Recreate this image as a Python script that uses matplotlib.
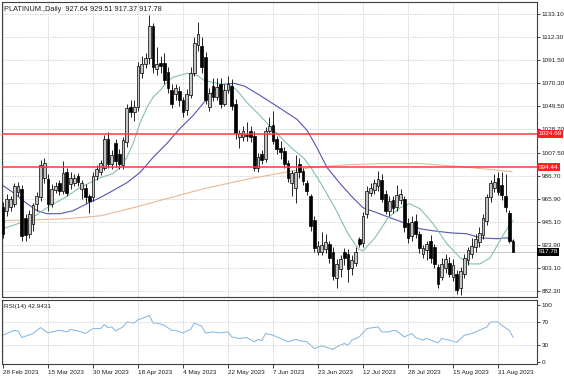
import numpy as np
import matplotlib.pyplot as plt
import matplotlib.transforms as mtransforms

plt.rcParams['font.family'] = ['Liberation Sans', 'DejaVu Sans']

# ---- candles (daily bars, index 0 = 28 Feb 2023) ----
opens = [958, 955, 958, 961, 972, 975, 948, 934, 943, 961, 967, 985, 984, 961, 974, 980, 973, 990, 979, 980,
         986, 975, 976, 968, 967, 986, 990, 994, 1020, 997, 1016, 1006, 996, 1017, 1049, 1044, 1049, 1080, 1088, 1093,
         1122, 1083, 1089, 1089, 1081, 1064, 1061, 1063, 1055, 1046, 1060, 1080, 1105, 1104, 1094, 1049, 1068, 1058, 1070, 1052,
         1064, 1068, 1052, 1022, 1022, 1024, 1027, 1023, 994, 1006, 1002, 1027, 1033, 1020, 1012, 1009, 998, 980, 976, 997,
         991, 980, 968, 947, 918, 918, 920, 925, 918, 894, 902, 918, 916, 903, 908, 929, 926, 952, 971, 974,
         977, 983, 970, 955, 965, 958, 965, 966, 944, 932, 946, 934, 916, 919, 928, 922, 904, 895, 903, 908,
         895, 898, 885, 898, 910, 916, 922, 927, 933, 946, 967, 976, 985, 978, 968, 953, 927.64]
highs = [963, 970, 968, 980, 981, 978, 952, 956, 962, 972, 1001, 1003, 988, 979, 981, 983, 1000, 994, 990, 988,
         989, 983, 979, 970, 990, 996, 1001, 1024, 1026, 1010, 1020, 1011, 1022, 1052, 1055, 1055, 1090, 1095, 1098, 1132,
         1125, 1103, 1095, 1098, 1085, 1070, 1070, 1068, 1058, 1065, 1085, 1112, 1126, 1112, 1099, 1066, 1075, 1075, 1075, 1070,
         1077, 1074, 1056, 1028, 1032, 1035, 1032, 1027, 1007, 1010, 1031, 1040, 1045, 1023, 1018, 1013, 1001, 992, 1005, 1003,
         994, 983, 970, 950, 928, 936, 934, 928, 922, 911, 915, 921, 920, 915, 922, 931, 954, 977, 980, 984,
         991, 988, 974, 968, 968, 978, 975, 968, 948, 950, 952, 937, 924, 928, 933, 925, 907, 912, 916, 913,
         911, 901, 904, 916, 922, 930, 934, 940, 952, 970, 983, 988, 990, 990, 988, 956, 929.51]
lows = [930, 950, 955, 958, 968, 928, 928, 930, 937, 955, 964, 980, 955, 958, 971, 969, 970, 968, 975, 977,
        977, 966, 962, 953, 964, 983, 987, 992, 994, 993, 995, 993, 993, 1013, 1040, 1036, 1045, 1075, 1084, 1088,
        1080, 1078, 1080, 1070, 1062, 1048, 1055, 1050, 1040, 1042, 1057, 1077, 1100, 1080, 1052, 1045, 1054, 1055, 1048, 1050,
        1062, 1046, 1020, 1012, 1018, 1018, 1017, 991, 990, 997, 999, 1025, 1015, 1006, 1002, 994, 981, 968, 962, 985,
        978, 969, 937, 918, 915, 915, 917, 908, 892, 885, 895, 906, 890, 897, 905, 922, 922, 948, 968, 970,
        973, 963, 952, 950, 953, 955, 961, 936, 926, 928, 930, 917, 912, 910, 908, 903, 885, 892, 899, 895,
        891, 880, 879, 894, 906, 912, 918, 922, 929, 942, 963, 972, 969, 965, 954, 926, 917.37]
closes = [934, 966, 966, 977, 977, 932, 933, 952, 960, 968, 996, 998, 961, 975, 977, 973, 989, 971, 985, 985,
          981, 980, 967, 964, 986, 993, 998, 1020, 997, 1005, 1000, 997, 1019, 1048, 1044, 1049, 1086, 1088, 1093, 1122,
          1085, 1088, 1086, 1073, 1066, 1052, 1066, 1055, 1044, 1061, 1080, 1107, 1115, 1085, 1055, 1062, 1058, 1067, 1052, 1064,
          1070, 1050, 1025, 1025, 1027, 1023, 1022, 994, 1004, 1001, 1027, 1032, 1018, 1011, 1008, 997, 985, 989, 990, 990,
          982, 973, 941, 921, 923, 924, 927, 912, 896, 907, 911, 912, 902, 910, 918, 925, 950, 973, 976, 980,
          984, 966, 955, 964, 957, 969, 970, 940, 930, 945, 934, 921, 921, 925, 912, 907, 889, 907, 911, 898,
          906, 883, 900, 912, 919, 923, 929, 935, 948, 967, 980, 981, 972, 969, 958, 928, 917.78]

# ---- moving averages (bar index, price) ----
ma_fast_x = [0, 7, 12.5, 16.5, 20.5, 26, 29.3, 31.2, 33, 34.7, 36.5, 38.4, 40, 41.9, 43.7, 45.3, 47.2, 49.3, 51.7, 53.6,
             57, 60.8, 62.4, 65, 67.7, 71.5, 74.1, 76.8, 80.3, 82.1, 84.8, 88.5, 92, 94.7, 96, 99.2, 102.7, 105.9, 108.5,
             111.2, 114.7, 118.4, 121.9, 124.5, 127.2, 129.9, 132.5, 134.4, 135.5, 136]
ma_fast_y = [938.6, 946.8, 959.5, 966.8, 975.9, 985.0, 988.6, 994.1, 1003.2, 1015.9, 1034.1, 1048.6, 1057.7, 1064.0,
             1071.3, 1075.9, 1077.7, 1079.5, 1077.7, 1073.1, 1070.4, 1068.6, 1064.0, 1053.1, 1044.0, 1030.4, 1021.3,
             1012.2, 1002.2, 994.1, 979.5, 957.7, 934.1, 920.5, 918.6, 930.5, 948.6, 957.7, 961.3, 956.8, 943.2, 925.0,
             912.3, 906.8, 906.8, 912.3, 927.7, 938.6, 944.1, 945.9]
ma_mid_x = [0, 2.7, 6.4, 9.1, 11.7, 15.2, 18.7, 22.4, 25.9, 29.3, 33.1, 36.5, 40, 43.7, 47.2, 50.7, 53.6, 56.3, 58.9,
            61.6, 64.5, 68.5, 73.9, 78.4, 81.1, 83.7, 86.4, 89.9, 93.3, 96, 99.7, 103.2, 107.7, 111.2, 114.7, 119.2,
            123.7, 127.2, 131.7, 134.4, 135.5, 136]
ma_mid_y = [977.7, 971.4, 961.4, 955.0, 952.3, 952.3, 955.0, 961.4, 966.8, 973.2, 980.5, 989.5, 1003.2, 1015.9, 1029.5,
            1041.3, 1053.1, 1064.0, 1069.5, 1070.4, 1067.7, 1059.5, 1047.7, 1037.7, 1027.7, 1012.2, 994.1, 979.5, 966.8,
            957.7, 953.2, 948.6, 943.2, 938.6, 936.8, 935.0, 934.1, 930.5, 929.6, 930.5, 927.7, 927.7]
ma_slow_x = [0, 17, 26, 34.7, 43.7, 53.6, 65.9, 74.9, 82.1, 92.5, 101.3, 111.2, 121.9, 129.9, 135.7]
ma_slow_y = [945.9, 947.7, 950.4, 957.7, 965.9, 975.0, 984.1, 989.5, 994.1, 996.8, 997.7, 997.7, 995.0, 992.3, 990.4]

# ---- RSI(14) ----
rsi_x = [0, 1, 3, 4, 5, 6, 8, 10, 12, 13,
         15, 17, 18, 20, 22, 24, 26, 27, 28, 29,
         30, 32, 33, 35, 36, 37, 39, 40, 41, 43,
         45, 46, 48, 50, 51, 53, 54, 56, 58, 60,
         61, 63, 65, 67, 68, 69, 70, 72, 73, 75,
         76, 78, 79, 81, 83, 85, 88, 89, 91, 92,
         93, 95, 97, 98, 100, 101, 103, 104, 105, 107,
         109, 110, 112, 113, 116, 117, 119, 121, 123, 125,
         127, 129, 130, 132, 133, 135, 136]
rsi_y = [46.4, 49.4, 55, 54, 42.4, 44.7, 49.4, 59.8, 50.4, 52.2,
         55, 52.2, 56.3, 54, 49.4, 58, 58, 65, 59.8, 61,
         54, 61, 69.6, 67.8, 73.7, 75.5, 81.2, 67.8, 67.8, 63.8,
         55, 55, 50.4, 56.3, 67.8, 62, 50.4, 52.2, 50.4, 52.2,
         43.5, 40.7, 42.4, 34.8, 39, 37, 49.4, 46.4, 43.5, 37.7,
         34.8, 39, 37, 34.8, 23.3, 27.8, 21.6, 26.1, 32, 29,
         37.7, 43.5, 58, 59.1, 60.9, 52.2, 52.2, 55, 54, 43.5,
         49.4, 42.4, 37.7, 40.7, 33, 40.7, 37.7, 33.7, 46.4, 49.4,
         55, 60.9, 69.6, 69.6, 63.8, 55, 42.94]

price_ticks = [882.30, 903.10, 923.90, 945.10, 965.90, 986.70, 1007.50, 1028.70, 1049.50, 1070.30, 1091.50,
               1112.30, 1133.10]
date_labels = ['28 Feb 2023', '15 Mar 2023', '30 Mar 2023', '18 Apr 2023', '4 May 2023', '22 May 2023',
               '7 Jun 2023', '23 Jun 2023', '12 Jul 2023', '28 Jul 2023', '15 Aug 2023', '31 Aug 2023']
levels = [1024.69, 994.44]
last_price = 917.78

W, H = 564, 376
fig = plt.figure(figsize=(W / 100, H / 100), dpi=100)
fig.patch.set_facecolor('white')

def px_axes(x0, y0, x1, y1):
    return fig.add_axes([x0 / W, 1 - y1 / H, (x1 - x0) / W, (y1 - y0) / H])

ax = px_axes(2, 2, 537, 297)
ax2 = px_axes(2, 299.5, 537, 364)

xmin = -0.27
xmax = xmin + 535 / 3.75
fs = 5.3    # title texts
fs_t = 4.6  # tick labels
grid_kw = dict(color='#c8c8c8', lw=0.6, ls=(0, (1.5, 1.5)))
date_pos = [12 * i for i in range(len(date_labels))]

# ---- main panel ----
n = len(closes)
idx = np.arange(n)
o = np.array(opens, float); c = np.array(closes, float)
h = np.array(highs, float); l = np.array(lows, float)
up = c >= o
ax.vlines(idx, l, h, color='black', lw=0.6, zorder=3)
body_bot = np.minimum(o, c)
body_h = np.maximum(np.abs(c - o), 0.4)
ax.bar(idx[up], body_h[up], bottom=body_bot[up], width=0.7, color='#c4c4c4', edgecolor='black', lw=0.5, zorder=4)
ax.bar(idx[~up], body_h[~up], bottom=body_bot[~up], width=0.7, color='black', edgecolor='black', lw=0.5, zorder=4)

ax.plot(ma_slow_x, ma_slow_y, color='#e6b995', lw=0.8, zorder=2)
ax.plot(ma_mid_x, ma_mid_y, color='#5555b0', lw=0.8, zorder=2)
ax.plot(ma_fast_x, ma_fast_y, color='#86c2a8', lw=0.8, zorder=2)

for lv in levels:
    ax.axhline(lv, color='#ff3a3a', lw=1.1, zorder=5)
ax.axhline(last_price, color='#c0c0c0', lw=0.6, zorder=1)

ax.set_xlim(xmin, xmax)
ax.set_ylim(876.85, 1144.0)
ax.yaxis.tick_right()
ax.set_yticks(price_ticks)
ax.set_yticklabels(['%.2f' % v for v in price_ticks], fontsize=fs_t, color='#202020')
ax.set_xticks(date_pos)
ax.set_xticklabels([])
ax.tick_params(axis='y', length=2.5, width=0.6, pad=1, colors='#202020')
ax.tick_params(axis='x', length=0)
ax.grid(True, **grid_kw)
ax.set_axisbelow(True)
for sp in ax.spines.values():
    sp.set_color('#404040'); sp.set_linewidth(0.8)

ax.text(0.003, 0.985, 'PLATINUM.,Daily  927.64 929.51 917.37 917.78', transform=ax.transAxes,
        fontsize=fs, va='top', ha='left', color='#202020')

tr = mtransforms.blended_transform_factory(ax.transAxes, ax.transData)
for lv in levels:
    ax.text(1.003, lv, '%.2f' % lv, transform=tr, fontsize=fs_t, color='white', va='center', ha='left',
            zorder=10, clip_on=False,
            bbox=dict(boxstyle='square,pad=0.2', fc='#ff2020', ec='none'))
ax.text(1.003, last_price, '%.2f' % last_price, transform=tr, fontsize=fs_t, color='white', va='center', ha='left',
        zorder=10, clip_on=False, bbox=dict(boxstyle='square,pad=0.2', fc='black', ec='none'))

# ---- RSI panel ----
ax2.plot(rsi_x, rsi_y, color='#7fb3e3', lw=0.7)
ax2.set_xlim(xmin, xmax)
ax2.set_ylim(-4, 109)
ax2.yaxis.tick_right()
ax2.set_yticks([0, 30, 70, 100])
ax2.set_yticklabels(['0', '30', '70', '100'], fontsize=fs_t, color='#202020')
ax2.tick_params(axis='y', length=2.5, width=0.6, pad=1, colors='#202020')
for lv in [30, 70]:
    ax2.axhline(lv, **grid_kw)
for p in date_pos:
    ax2.axvline(p, **grid_kw)
ax2.set_xticks(date_pos)
ax2.set_xticklabels(date_labels, fontsize=fs_t, ha='left', color='#202020')
ax2.tick_params(axis='x', length=3, width=0.6, pad=1.5, colors='#202020')
for sp in ax2.spines.values():
    sp.set_color('#404040'); sp.set_linewidth(0.8)
ax2.text(0.003, 0.93, 'RSI(14) 42.9431', transform=ax2.transAxes, fontsize=fs_t, va='top', ha='left',
         color='#202020')

fig.savefig('out.png', dpi=100)
